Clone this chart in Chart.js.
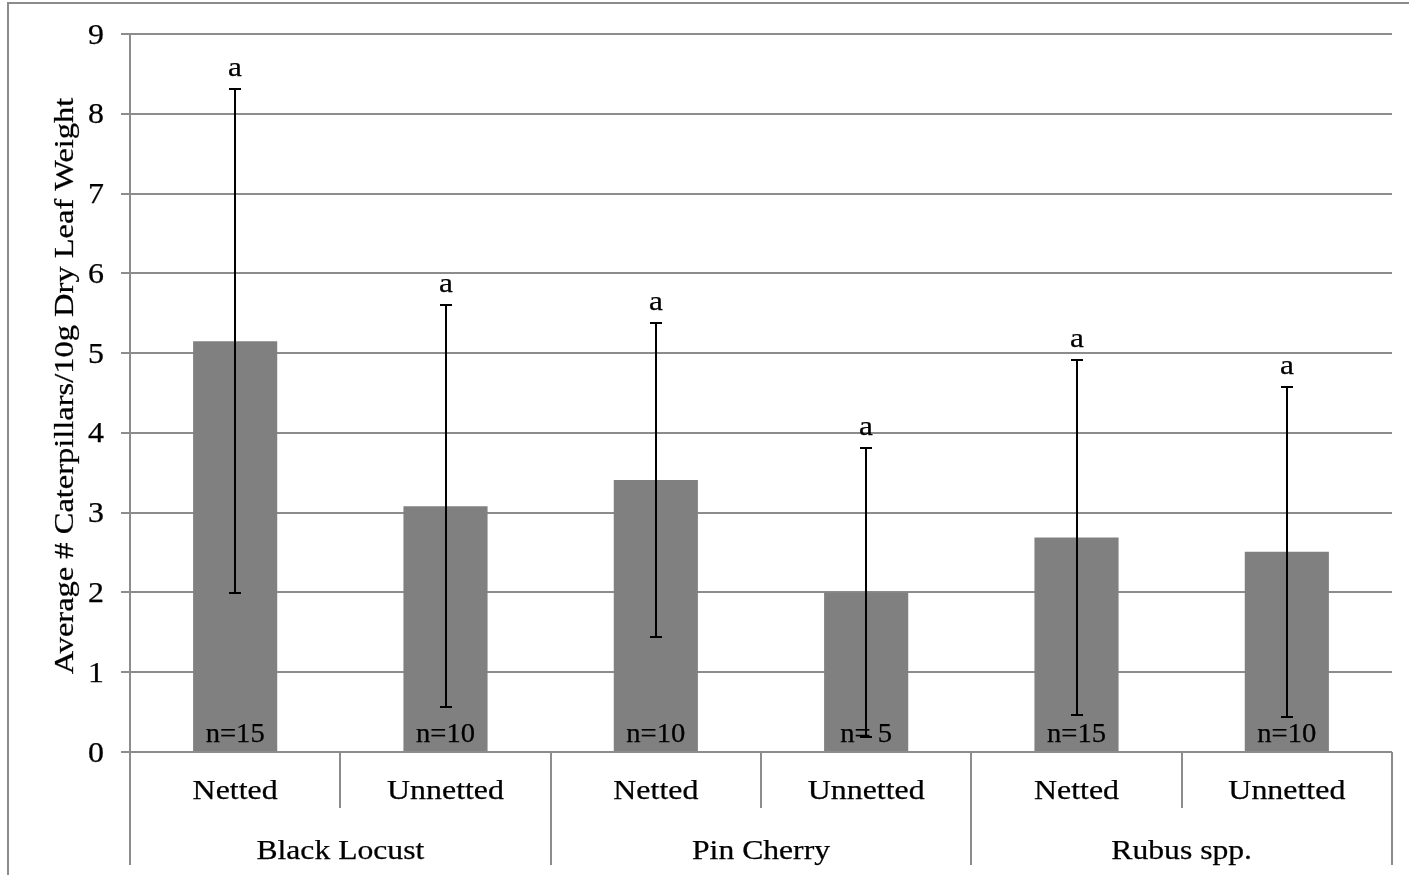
<!DOCTYPE html>
<html>
<head>
<meta charset="utf-8">
<script src="https://cdn.jsdelivr.net/npm/chart.js@4/dist/chart.umd.min.js"></script>
<style>
  html, body { margin: 0; padding: 0; background: #ffffff; }
  #wrap { width: 1409px; height: 875px; position: relative; }
</style>
</head>
<body>
<div id="wrap"><canvas id="c" width="1409" height="875"></canvas></div>
<script>
// ---- data ----
const groups = ['Black Locust', 'Pin Cherry', 'Rubus spp.'];
const treatments = ['Netted', 'Unnetted', 'Netted', 'Unnetted', 'Netted', 'Unnetted'];
const means = [5.15, 3.08, 3.41, 2.00, 2.69, 2.51];
const errors = [3.16, 2.52, 1.97, 1.81, 2.22, 2.07];
const sampleLabels = ['n=15', 'n=10', 'n=10', 'n= 5', 'n=15', 'n=10'];
const letters = ['a', 'a', 'a', 'a', 'a', 'a'];
const yTicks = [0, 1, 2, 3, 4, 5, 6, 7, 8, 9];
const yTitle = 'Average # Caterpillars/10g Dry Leaf Weight';

// ---- styles ----
const FONT = '"Liberation Serif", "Times New Roman", serif';
const GRID = '#8c8c8c';

function stretchedText(ctx, text, x, y, size, align, sx, rot) {
  ctx.save();
  ctx.translate(x, y);
  if (rot) ctx.rotate(rot);
  ctx.scale(sx, 1);
  ctx.font = size + 'px ' + FONT;
  ctx.fillStyle = '#000000';
  ctx.strokeStyle = '#000000';
  ctx.lineWidth = 0.25;
  ctx.textAlign = align;
  ctx.textBaseline = 'alphabetic';
  ctx.fillText(text, 0, 0);
  ctx.strokeText(text, 0, 0);
  ctx.restore();
}

const decorPlugin = {
  id: 'decor',
  beforeDraw(chart) {
    const ctx = chart.ctx;
    ctx.save();
    ctx.fillStyle = '#ffffff';
    ctx.fillRect(0, 0, chart.width, chart.height);
    ctx.strokeStyle = '#8c8c8c';
    ctx.lineWidth = 2;
    ctx.strokeRect(8, 3, chart.width + 20, chart.height + 20);
    ctx.restore();
  },
  afterDraw(chart) {
    const ctx = chart.ctx;
    const x = chart.scales.x, y = chart.scales.y;
    const area = chart.chartArea;
    const n = treatments.length;
    const step = (x.getPixelForValue(1) - x.getPixelForValue(0));

    // y tick labels
    yTicks.forEach(v => {
      stretchedText(ctx, String(v), 104, y.getPixelForValue(v) + 9.5, 28.5, 'right', 1.12);
    });

    // y title
    stretchedText(ctx, yTitle, 73, (area.top + area.bottom) / 2 - 7, 28, 'center', 1.16, -Math.PI / 2);

    // x separators
    ctx.save();
    ctx.strokeStyle = GRID;
    ctx.lineWidth = 2;
    for (let i = 0; i <= n; i++) {
      const px = Math.round(x.getPixelForValue(i) - step / 2);
      const isGroupEdge = (i % 2 === 0);
      ctx.beginPath();
      ctx.moveTo(px, area.bottom);
      ctx.lineTo(px, isGroupEdge ? 865 : 808);
      ctx.stroke();
    }
    ctx.restore();

    // category labels
    treatments.forEach((t, i) => {
      stretchedText(ctx, t, x.getPixelForValue(i), 799, 28, 'center', 1.14);
    });
    // group labels
    groups.forEach((g, gi) => {
      const cx = (x.getPixelForValue(gi * 2) + x.getPixelForValue(gi * 2 + 1)) / 2;
      stretchedText(ctx, g, cx, 859, 28, 'center', 1.13);
    });

    // n labels
    sampleLabels.forEach((s, i) => {
      stretchedText(ctx, s, x.getPixelForValue(i), 742, 27, 'center', 1.06);
    });

    // error bars
    ctx.save();
    ctx.strokeStyle = '#000000';
    ctx.lineWidth = 2;
    means.forEach((m, i) => {
      const cx = Math.round(x.getPixelForValue(i));
      const yt = Math.round(y.getPixelForValue(m + errors[i]));
      const yb = Math.round(y.getPixelForValue(m - errors[i]));
      ctx.beginPath();
      ctx.moveTo(cx, yt); ctx.lineTo(cx, yb);
      ctx.moveTo(cx - 6, yt); ctx.lineTo(cx + 6, yt);
      ctx.moveTo(cx - 6, yb); ctx.lineTo(cx + 6, yb);
      ctx.stroke();
      stretchedText(ctx, letters[i], cx, yt - 13, 28, 'center', 1.12);
    });
    ctx.restore();
  }
};

new Chart(document.getElementById('c'), {
  type: 'bar',
  data: {
    labels: treatments,
    datasets: [{
      data: means,
      backgroundColor: '#808080',
      borderWidth: 0,
      barPercentage: 0.4,
      categoryPercentage: 1.0
    }]
  },
  options: {
    responsive: false,
    animation: false,
    devicePixelRatio: 1,
    layout: { padding: { left: 0, right: 17, top: 34, bottom: 0 } },
    plugins: { legend: { display: false }, tooltip: { enabled: false }, title: { display: false } },
    scales: {
      x: {
        grid: { display: false },
        border: { display: false },
        ticks: { display: false },
        afterFit(scale) { scale.height = 123; }
      },
      y: {
        min: 0, max: 9,
        afterBuildTicks(scale) { scale.ticks = yTicks.map(v => ({ value: v })); },
        grid: { color: GRID, lineWidth: 2, tickLength: 9, drawTicks: true },
        border: { display: true, color: GRID, width: 2 },
        ticks: { display: false },
        afterFit(scale) { scale.width = 130; }
      }
    }
  },
  plugins: [decorPlugin]
});
</script>
</body>
</html>
